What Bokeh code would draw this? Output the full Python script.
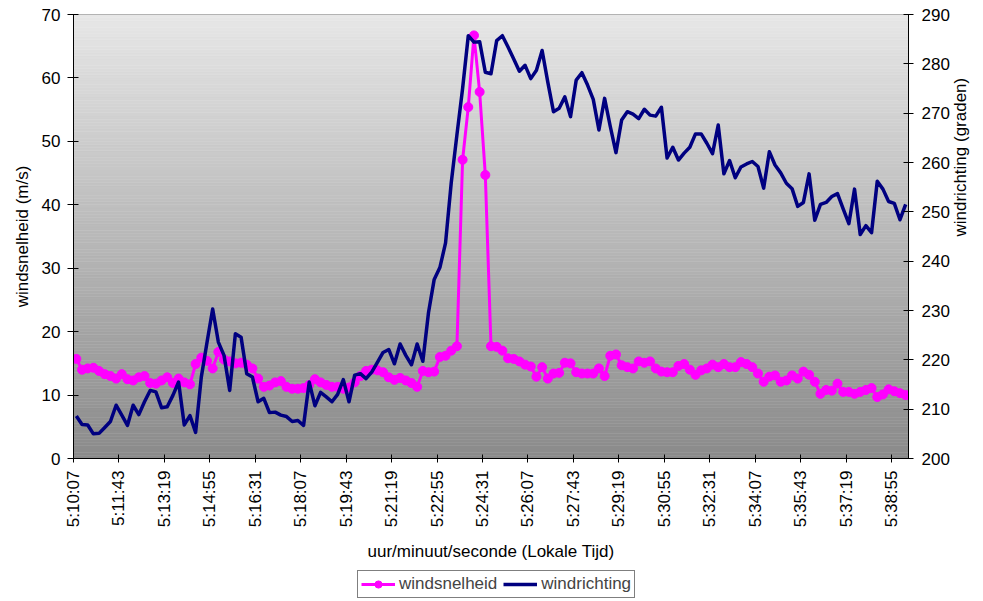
import math
import numpy as np
from bokeh.plotting import figure
from bokeh.layouts import column
from bokeh.models import Range1d, LinearAxis, FixedTicker, Legend, LegendItem
from bokeh.embed import file_html
from bokeh.resources import INLINE

# x-axis tick labels (every 8th 12-second sample)
tick_labels = ["5:10:07", "5:11:43", "5:13:19", "5:14:55", "5:16:31", "5:18:07",
               "5:19:43", "5:21:19", "5:22:55", "5:24:31", "5:26:07", "5:27:43",
               "5:29:19", "5:30:55", "5:32:31", "5:34:07", "5:35:43", "5:37:19",
               "5:38:55"]
label_every = 8

# wind speed (m/s), left axis
windsnelheid = [
    15.7, 14.0, 14.2, 14.3, 13.8, 13.3, 13.0, 12.6, 13.3, 12.5,
    12.3, 12.8, 13.0, 11.9, 11.8, 12.3, 12.8, 11.9, 12.6, 12.0,
    11.7, 14.9, 15.9, 15.4, 14.2, 16.8, 15.6, 15.3, 15.0, 15.1,
    14.8, 14.2, 12.6, 11.3, 11.5, 12.0, 12.2, 11.3, 11.0, 11.0,
    11.1, 11.6, 12.5, 12.0, 11.6, 11.3, 11.3, 11.0, 11.2, 12.0,
    13.0, 13.8, 14.0, 13.9, 13.6, 12.8, 12.4, 12.7, 12.3, 11.9,
    11.3, 13.8, 13.6, 13.7, 16.0, 16.2, 17.0, 17.7, 47.1, 55.4,
    66.7, 57.8, 44.7, 17.7, 17.6, 17.0, 15.8, 15.7, 15.3, 14.8,
    14.5, 12.9, 14.4, 12.6, 13.4, 13.5, 15.1, 15.0, 13.6, 13.4,
    13.4, 13.4, 14.2, 13.0, 16.2, 16.4, 14.7, 14.4, 14.2, 15.3,
    15.1, 15.3, 14.2, 13.7, 13.6, 13.6, 14.6, 14.9, 14.0, 13.2,
    13.9, 14.2, 14.8, 14.4, 14.9, 14.4, 14.4, 15.2, 14.9, 14.4,
    13.4, 12.1, 12.9, 13.1, 12.1, 12.3, 13.1, 12.6, 13.7, 13.2,
    12.1, 10.2, 10.8, 10.7, 11.8, 10.5, 10.5, 10.2, 10.5, 10.8,
    11.1, 9.7, 10.1, 10.9, 10.6, 10.3, 10.0,
]

# wind direction (degrees), right axis
windrichting = [
    208.6, 206.9, 206.8, 205.0, 205.1, 206.3, 207.5, 210.8, 208.8, 206.7,
    210.8, 208.9, 211.5, 213.8, 213.5, 210.3, 210.5, 212.8, 215.5, 206.8,
    208.7, 205.3, 216.5, 223.5, 230.3, 223.6, 220.9, 213.8, 225.3, 224.6,
    217.2, 216.5, 211.5, 212.2, 209.3, 209.4, 208.8, 208.5, 207.5, 207.7,
    206.7, 215.5, 210.7, 213.4, 212.5, 211.5, 213.0, 216.0, 211.5, 216.9,
    217.2, 216.2, 217.5, 219.5, 221.5, 222.1, 219.2, 223.2, 220.9, 219.0,
    223.2, 219.7, 229.6, 236.3, 238.7, 243.7, 255.9, 265.6, 275.0, 285.7,
    284.4, 284.5, 278.3, 278.0, 284.7, 285.7, 283.4, 281.0, 278.5, 279.7,
    277.0, 278.7, 282.7, 276.3, 270.3, 271.0, 273.3, 269.3, 276.7, 278.2,
    275.7, 272.8, 266.6, 273.0, 267.3, 262.0, 268.6, 270.3, 269.8, 268.9,
    270.8, 269.6, 269.4, 271.2, 260.9, 263.1, 260.5, 261.9, 263.1, 265.8,
    265.8, 263.9, 261.8, 267.6, 257.7, 260.4, 256.9, 259.1, 259.7, 260.2,
    259.2, 254.8, 262.2, 259.5, 257.9, 255.8, 254.7, 251.1, 251.9, 257.7,
    248.3, 251.5, 251.9, 253.1, 253.7, 250.6, 247.6, 254.6, 245.4, 247.2,
    245.8, 256.2, 254.6, 252.1, 251.7, 248.4, 251.5,
]

speed_ticks = [0, 10, 20, 30, 40, 50, 60, 70]
dir_ticks = [200, 210, 220, 230, 240, 250, 260, 270, 280, 290]

n = len(windsnelheid)
x = list(range(n))
FONT = "Liberation Sans"
FS = "17px"
pink = "#ff00ff"
navy = "#000080"

p = figure(width=983, height=564, output_backend="svg", toolbar_location=None,
           x_range=Range1d(-0.5, n - 0.5), y_range=Range1d(speed_ticks[0], speed_ticks[-1]),
           min_border_left=73, min_border_right=75, min_border_top=14,
           min_border_bottom=104)
p.extra_y_ranges = {"dir": Range1d(dir_ticks[0], dir_ticks[-1])}
p.background_fill_color = "white"
p.border_fill_color = "white"
p.grid.visible = False
p.outline_line_color = "#8c8c8c"

# vertical gradient plot-area background (style only)
nb = 140
y0, y1 = speed_ticks[0], speed_ticks[-1]
edges = np.linspace(y0, y1, nb + 1)
cols = []
for k in range(nb):
    t = (k + 0.5) / nb
    g = int(round(138 + (231 - 138) * t))
    cols.append("#%02x%02x%02x" % (g, g, g))
p.quad(left=-0.5, right=n - 0.5, bottom=edges[:-1], top=edges[1:],
       fill_color=cols, line_color=cols, line_width=0.5)

p.line(x, windsnelheid, line_color=pink, line_width=3)
p.scatter(x, windsnelheid, marker="circle", size=9, fill_color=pink, line_color=pink)
p.line(x, windrichting, line_color=navy, line_width=3.5, y_range_name="dir",
       line_join="round")

# x axis
xt = [label_every * k - 0.5 for k in range(len(tick_labels))]
p.xaxis.ticker = FixedTicker(ticks=xt)
p.xaxis.major_label_overrides = {t: lab for t, lab in zip(xt, tick_labels)}
p.xaxis.major_label_orientation = math.pi / 2
p.xaxis.axis_label = "uur/minuut/seconde (Lokale Tijd)"
p.xaxis.major_tick_in = 4
p.xaxis.major_tick_out = 4
p.xaxis.major_label_standoff = 8
p.xaxis.axis_label_standoff = 12
p.xaxis.minor_tick_line_color = None

# left axis
p.yaxis.ticker = FixedTicker(ticks=speed_ticks)
p.yaxis.axis_label = "windsnelheid (m/s)"
p.yaxis.major_tick_in = 5
p.yaxis.major_tick_out = 6
p.yaxis.major_label_standoff = 7
p.yaxis.axis_label_standoff = 7
p.yaxis.minor_tick_line_color = None

# right axis
ax_r = LinearAxis(y_range_name="dir", ticker=FixedTicker(ticks=dir_ticks),
                  axis_label="windrichting (graden)")
ax_r.major_tick_in = 5
ax_r.major_tick_out = 5
ax_r.major_label_standoff = 8
ax_r.axis_label_standoff = 8
ax_r.axis_label_orientation = math.pi / 2
ax_r.minor_tick_line_color = None
p.add_layout(ax_r, "right")

for ax in [p.xaxis[0], p.yaxis[0], ax_r]:
    ax.axis_line_color = "black"
    ax.major_tick_line_color = "black"
    ax.major_label_text_font = FONT
    ax.major_label_text_font_size = FS
    ax.major_label_text_color = "black"
    ax.axis_label_text_font = FONT
    ax.axis_label_text_font_size = FS
    ax.axis_label_text_font_style = "normal"
    ax.axis_label_text_color = "black"

# legend strip below the chart (its frame is aligned with the chart frame)
q = figure(width=983, height=37, output_backend="svg", toolbar_location=None,
           x_range=Range1d(0, 1), y_range=Range1d(0, 1),
           min_border=0, x_axis_type=None, y_axis_type=None)
q.grid.visible = False
q.outline_line_color = None
q.background_fill_color = "white"
q.border_fill_color = "white"
# legend-only proxies, placed outside the visible range
l1 = q.line([-3, -2], [-3, -3], line_color=pink, line_width=3)
l1b = q.scatter([-3], [-3], marker="circle", size=9, fill_color=pink, line_color=pink)
l2 = q.line([-3, -2], [-3, -3], line_color=navy, line_width=3.5)
legend = Legend(items=[LegendItem(label="windsnelheid", renderers=[l1, l1b]),
                       LegendItem(label="windrichting", renderers=[l2])],
                orientation="horizontal", location=(284, 3),
                border_line_color="black", border_line_width=1,
                background_fill_color="white", background_fill_alpha=1.0,
                label_text_font=FONT, label_text_font_size=FS,
                glyph_width=34, glyph_height=18, label_standoff=4, spacing=6,
                padding=3, margin=0, label_height=18)
q.add_layout(legend)

open("out.html", "w").write(file_html(column(p, q, spacing=0), INLINE))
